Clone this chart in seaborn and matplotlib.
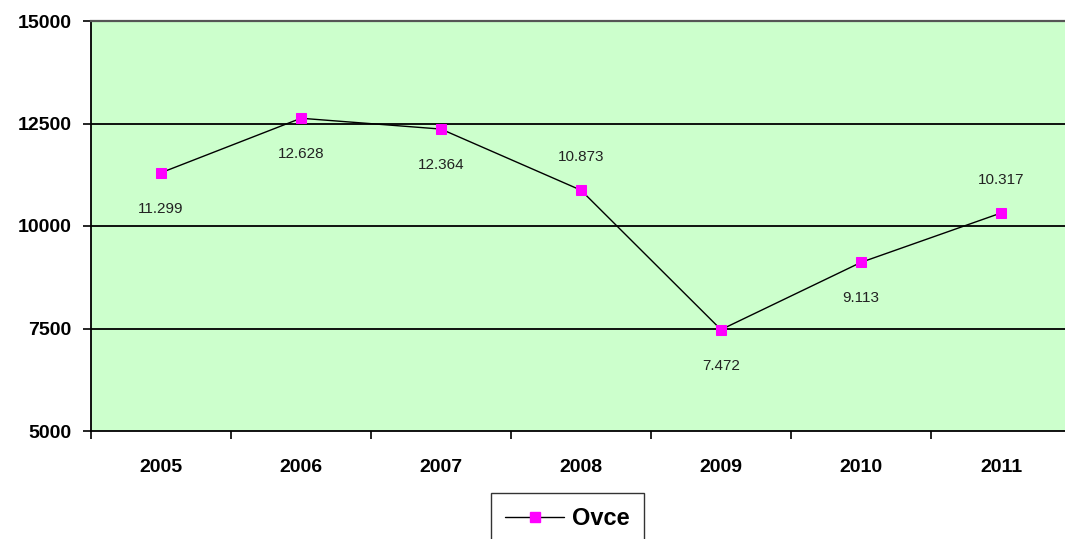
import matplotlib
matplotlib.use("Agg")
import matplotlib.pyplot as plt
import seaborn as sns
import pandas as pd
from matplotlib.ticker import FixedLocator
from matplotlib.lines import Line2D

years = ["2005", "2006", "2007", "2008", "2009", "2010", "2011"]
values = [11299, 12628, 12364, 10873, 7472, 9113, 10317]
value_labels = ["11.299", "12.628", "12.364", "10.873", "7.472", "9.113", "10.317"]
label_above = [False, False, False, True, False, False, True]
y_ticks = [5000, 7500, 10000, 12500, 15000]
series_name = "Ovce"

sns.set_theme(style="white")
plt.rcParams['font.family'] = ['Liberation Sans', 'DejaVu Sans']
plt.rcParams['text.color'] = 'black'
plt.rcParams['xtick.color'] = 'black'
plt.rcParams['ytick.color'] = 'black'

df = pd.DataFrame({"idx": range(len(years)), "value": values, "series": series_name})

fig = plt.figure(figsize=(10.65, 5.39), dpi=100)
ax = fig.add_axes([91/1065, 108/539, 980/1065, 410/539])
ax.set_facecolor("#ccffcc")

for yv in y_ticks[1:-1]:
    ax.axhline(yv, color="black", lw=1.3, zorder=1)

sns.lineplot(data=df, x="idx", y="value", hue="series", palette=["black"],
             marker="s", markersize=7.8, markerfacecolor="#ff00ff",
             markeredgecolor="#ff00ff", linewidth=1, ax=ax, legend=False, zorder=3)

for i, (v, lab, above) in enumerate(zip(values, value_labels, label_above)):
    off = 24 if above else -26
    ax.annotate(lab, (i, v), xytext=(0, off), textcoords="offset points",
                ha="center", va="center", fontsize=11, color="#222222")

ax.set_xlim(-0.5, len(years) - 0.5)
ax.set_ylim(5000, 15000)
ax.set_xticks(range(len(years)))
ax.set_xticklabels(years, fontweight="bold", fontsize=14)
ax.xaxis.set_minor_locator(FixedLocator([i - 0.5 for i in range(len(years) + 1)]))
ax.tick_params(axis="x", which="major", length=0, pad=20)
ax.tick_params(axis="x", which="minor", length=6, width=1.2, color="black", direction="out", bottom=True)
ax.set_yticks(y_ticks)
ax.set_yticklabels([str(t) for t in y_ticks], fontweight="bold", fontsize=14)
ax.tick_params(axis="y", length=6, width=1.2, color="black", direction="out", left=True, pad=8)
ax.set_xlabel("")
ax.set_ylabel("")

for s in ["left", "bottom"]:
    ax.spines[s].set_color("black")
    ax.spines[s].set_linewidth(1.3)
ax.spines["top"].set_color("#555555")
ax.spines["top"].set_linewidth(1.6)
ax.spines["right"].set_visible(False)

handle = Line2D([], [], color="black", lw=1, marker="s", markersize=7.5,
                markerfacecolor="#ff00ff", markeredgecolor="#ff00ff")
leg = fig.legend([handle], [series_name], loc="upper center",
                 bbox_to_anchor=(567.5/1065, 1 - 493/539), frameon=True, fancybox=False,
                 prop={"weight": "bold", "size": 17}, handlelength=2.5,
                 borderpad=0.6, handletextpad=0.35, borderaxespad=0)
leg.get_frame().set_edgecolor("black")
leg.get_frame().set_linewidth(1)

fig.savefig("out.png", dpi=100)
